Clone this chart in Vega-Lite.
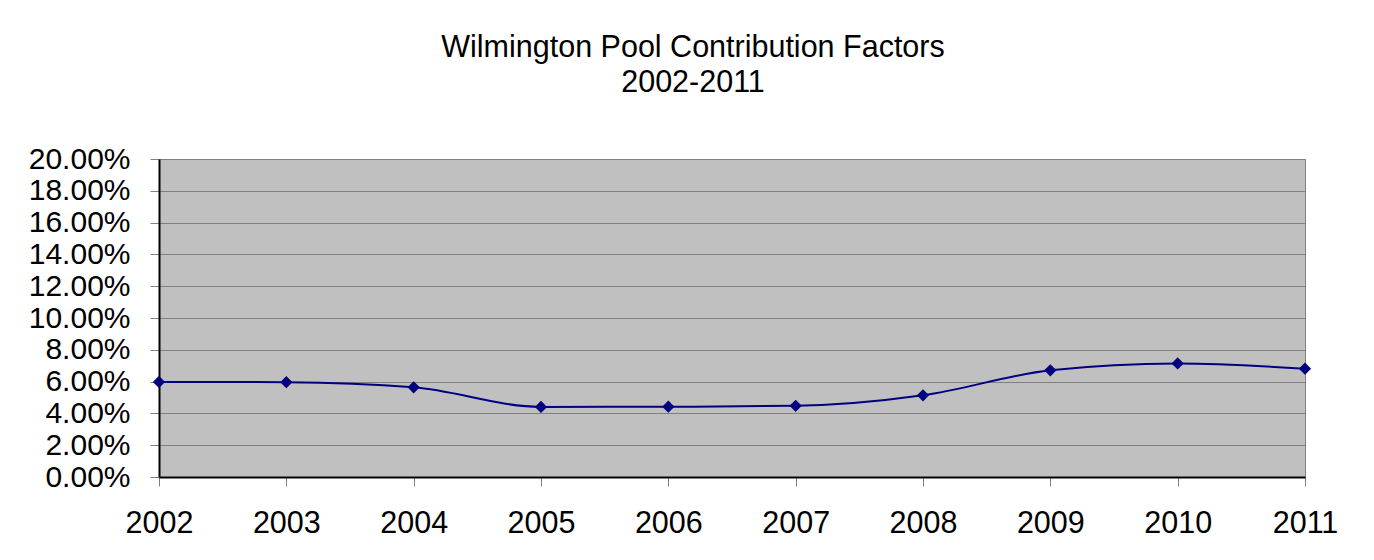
{
  "$schema": "https://vega.github.io/schema/vega-lite/v6.json",
  "autosize": "none",
  "width": 1146,
  "height": 318,
  "padding": {"left": 159, "top": 159, "right": 69, "bottom": 83},
  "background": "white",
  "title": {
    "text": ["Wilmington Pool Contribution Factors", "2002-2011"],
    "anchor": "middle",
    "frame": "group",
    "dx": -39,
    "offset": 46,
    "font": "Liberation Sans",
    "fontSize": 30.5,
    "fontWeight": "normal",
    "color": "black",
    "lineHeight": 35
  },
  "data": {
    "values": [
      {"year": "2002", "factor": 0.0598},
      {"year": "2003", "factor": 0.0596},
      {"year": "2004", "factor": 0.0564},
      {"year": "2005", "factor": 0.0441},
      {"year": "2006", "factor": 0.0442},
      {"year": "2007", "factor": 0.0448},
      {"year": "2008", "factor": 0.0514},
      {"year": "2009", "factor": 0.0671},
      {"year": "2010", "factor": 0.0714},
      {"year": "2011", "factor": 0.0681}
    ]
  },
  "mark": {
    "type": "line",
    "interpolate": "monotone",
    "color": "#000080",
    "strokeWidth": 2,
    "point": {"shape": "diamond", "size": 150, "filled": true, "color": "#000080", "opacity": 1}
  },
  "encoding": {
    "x": {
      "field": "year",
      "type": "ordinal",
      "scale": {"type": "point", "padding": 0},
      "axis": {
        "title": null,
        "labelAngle": 0,
        "labelFont": "Liberation Sans",
        "labelFontSize": 30.5,
        "labelColor": "black",
        "labelPadding": 22,
        "tickColor": "#808080",
        "tickSize": 9,
        "domainColor": "black",
        "domainWidth": 2,
        "grid": false
      }
    },
    "y": {
      "field": "factor",
      "type": "quantitative",
      "scale": {"domain": [0, 0.2], "nice": false},
      "axis": {
        "title": null,
        "values": [0, 0.02, 0.04, 0.06, 0.08, 0.1, 0.12, 0.14, 0.16, 0.18, 0.2],
        "format": ".2%",
        "labelFont": "Liberation Sans",
        "labelFontSize": 30,
        "labelColor": "black",
        "labelPadding": 20,
        "tickColor": "#808080",
        "tickSize": 9,
        "domainColor": "black",
        "domainWidth": 2,
        "grid": true,
        "gridColor": "#808080",
        "gridWidth": 1,
        "gridOpacity": 1
      }
    }
  },
  "config": {
    "view": {"fill": "#C0C0C0", "stroke": "#808080", "strokeWidth": 1},
    "axis": {"labelOverlap": false}
  }
}
